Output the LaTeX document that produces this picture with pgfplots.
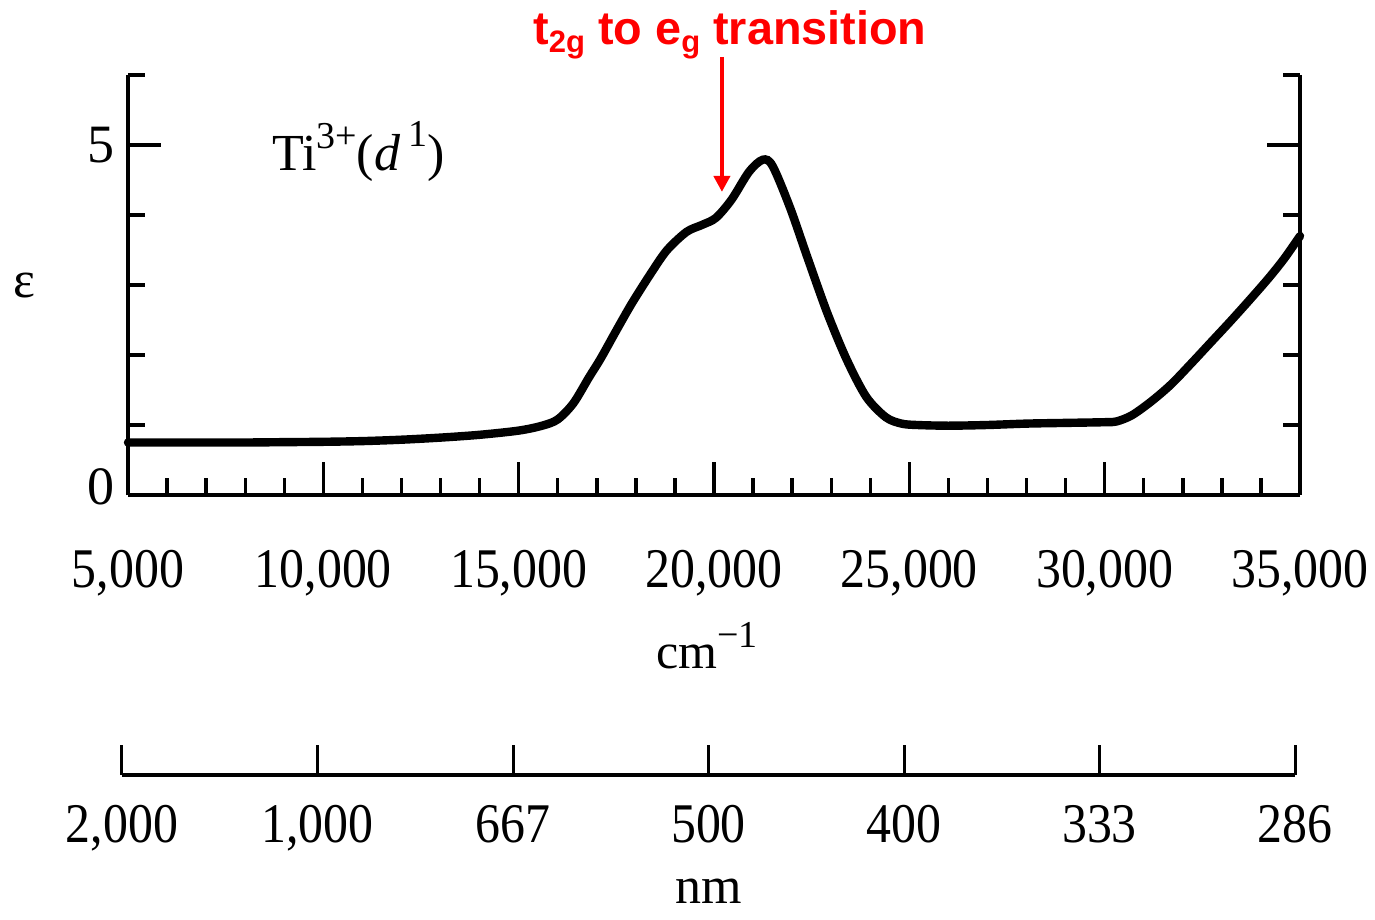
\documentclass[border=0pt]{standalone}
\usepackage{fontspec}
\setmainfont{Liberation Serif}
\newfontfamily\arialfont{Liberation Sans}
\usepackage{pgfplots}
\pgfplotsset{compat=1.18}
\usetikzlibrary{arrows.meta}

\newcommand\tickfont{\fontsize{28}{28}\selectfont}

\begin{document}
\begin{tikzpicture}
% absorbance curve, wavenumber scale
\begin{axis}[
  name=main, at={(0,0)}, anchor=south west,
  scale only axis, width=586pt, height=210pt,
  xmin=5000, xmax=35000, ymin=0, ymax=6,
  axis x line*=bottom, axis y line*=box,
  axis line style={line width=2.4pt},
  scaled x ticks=false,
  xtick={5000,10000,...,35000},
  xticklabels={{5,000},{10,000},{15,000},{20,000},{25,000},{30,000},{35,000}},
  minor x tick num=4,
  ytick={0,5}, minor ytick={1,2,3,4,6},
  yticklabels={\raisebox{8pt}{0},\raisebox{-3.5pt}{5}},
  yticklabel pos=left,
  tick align=inside,
  major tick length=16.5pt, minor tick length=8.5pt,
  every tick/.style={black, line width=1.7pt},
  x tick label style={font=\tickfont, xscale=0.89, anchor=base, yshift=-46pt},
  y tick label style={font=\fontsize{27}{27}\selectfont, xshift=-3pt},
  ylabel={ε},
  ylabel style={rotate=-90, at={(axis description cs:-0.088,0.5)}, anchor=center, font=\fontsize{26}{26}\selectfont},
  xlabel={cm\raisebox{0.42em}{\fontsize{19}{19}\selectfont −1}},
  xlabel style={at={(axis description cs:0.494,-0.412)}, anchor=base, font=\fontsize{25}{25}\selectfont},
  clip=false,
]
\addplot[black, line width=4.2pt, smooth, tension=0.5, line cap=round] coordinates {
 (5000,0.75) (6000,0.75) (7000,0.75) (8000,0.75) (9000,0.755) (10000,0.76)
 (11000,0.77) (12000,0.79) (13000,0.82) (14000,0.86) (15000,0.92) (15600,0.99)
 (16000,1.08) (16400,1.31) (16800,1.68) (17100,1.95) (17500,2.35) (17900,2.74)
 (18400,3.18) (18800,3.50) (19300,3.76) (19700,3.86) (20050,3.96) (20450,4.22)
 (20900,4.62) (21250,4.79) (21500,4.70) (21950,4.10) (22400,3.38) (22900,2.60)
 (23400,1.93) (23900,1.40) (24400,1.11) (24800,1.02) (25200,1.00) (26000,0.99)
 (27000,1.00) (28000,1.02) (29000,1.03) (30000,1.04) (30300,1.05) (30700,1.14)
 (31200,1.34) (31700,1.58) (32200,1.87) (32700,2.17) (33200,2.47) (33700,2.78)
 (34200,3.10) (34600,3.38) (35000,3.70)
};
\node[anchor=base west, font=\fontsize{26}{26}\selectfont] at (axis cs:8507,4.64)
  {Ti\raisebox{0.42em}{\fontsize{19}{19}\selectfont 3+}(\textit{d}\,\raisebox{0.45em}{\fontsize{19}{19}\selectfont 1})};
\node[anchor=base, text=red, font=\arialfont\bfseries\fontsize{23.4}{23.4}\selectfont] at (axis cs:20408,6.43)
  {t\raisebox{-4pt}{\fontsize{15.5}{15.5}\selectfont 2g} to e\raisebox{-4pt}{\fontsize{15.5}{15.5}\selectfont g} transition};
\draw[red, line width=2pt, -{Triangle[length=8pt, width=8pt]}] (axis cs:20203,6.26) -- (axis cs:20203,4.33);
\end{axis}
% wavelength scale
\begin{axis}[
  at={(-3pt,-140pt)}, anchor=south west,
  scale only axis, width=586.5pt, height=10pt,
  xmin=5000, xmax=35000, ymin=0, ymax=1,
  axis x line*=bottom, axis y line=none,
  axis line style={line width=2pt},
  scaled x ticks=false,
  xtick={5000,10000,...,35000},
  xticklabels={{2,000},{1,000},667,500,400,333,286},
  tick align=inside, major tick length=15pt,
  every tick/.style={black, line width=1.5pt},
  x tick label style={font=\tickfont, xscale=0.89, anchor=base, yshift=-33.5pt},
  xlabel={nm},
  xlabel style={at={(axis description cs:0.5,0)}, anchor=base, yshift=-64pt, font=\fontsize{26}{26}\selectfont},
]
\end{axis}
\pgfresetboundingbox
\useasboundingbox (-64pt,-212.5pt) rectangle (623.5pt,247.5pt);
\end{tikzpicture}
\end{document}
